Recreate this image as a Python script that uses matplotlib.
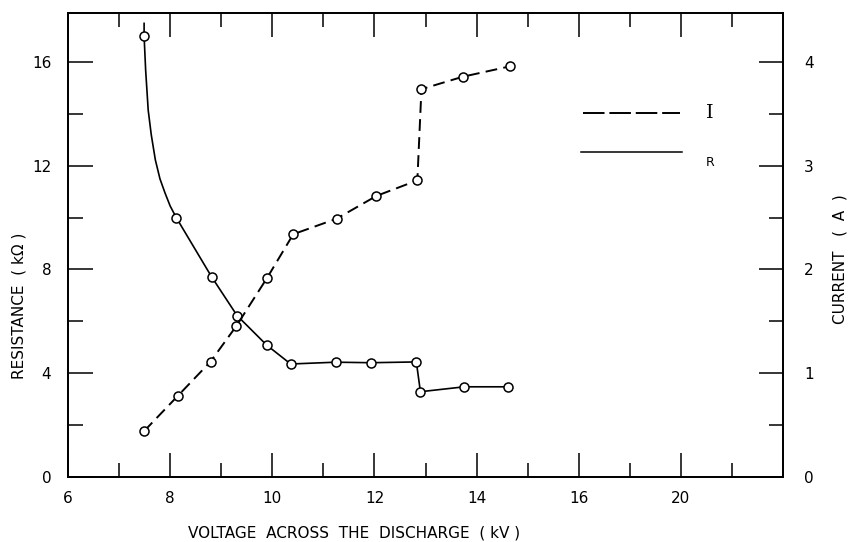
import matplotlib
matplotlib.use("Agg")
import matplotlib.pyplot as plt

# resistance (kOhm) measured points
r_volt = [7.49, 8.12, 8.81, 9.31, 9.89, 10.36, 11.24, 11.93, 12.82, 12.90, 13.76, 14.62]
r_kohm = [17.0, 10.0, 7.72, 6.22, 5.08, 4.35, 4.42, 4.40, 4.43, 3.28, 3.47, 3.47]
# points traced along the drawn R curve above 10 kOhm (no markers there)
r_trace_volt = [7.49, 7.49, 7.52, 7.57, 7.63, 7.71, 7.80, 7.90, 8.00]
r_trace_kohm = [17.5, 17.0, 15.7, 14.15, 13.2, 12.23, 11.5, 10.95, 10.45]

# current (A) measured points
i_volt = [7.49, 8.15, 8.79, 9.29, 9.90, 10.41, 11.26, 12.04, 12.84, 12.92, 13.73, 14.65]
i_amp = [0.44, 0.78, 1.11, 1.45, 1.92, 2.34, 2.49, 2.71, 2.86, 3.74, 3.86, 3.96]

x_major = [6, 8, 10, 12, 14, 16, 18]
x_labels = ['6', '8', '10', '12', '14', '16', '20']
x_minor = [7, 9, 11, 13, 15, 17, 19]
r_major = [0, 4, 8, 12, 16]
r_minor = [2, 6, 10, 14]
i_major = [0, 1, 2, 3, 4]
i_minor = [0.5, 1.5, 2.5, 3.5]

plt.rcParams['font.family'] = ['DejaVu Sans']
plt.rcParams['lines.scale_dashes'] = False

fig = plt.figure(figsize=(8.48, 5.42), dpi=100)
ax1 = fig.add_axes([0.0802, 0.1205, 0.8432, 0.8555])
ax2 = ax1.twinx()

ymax = 17.9
ax1.set_xlim(6, 20)
ax1.set_ylim(0, ymax)
ax2.set_ylim(0, ymax / 4)

# R curve: traced part then through measured points
ax1.plot(r_trace_volt + r_volt[1:], r_trace_kohm + r_kohm[1:], color='black', lw=1.2, zorder=2)
ax1.plot(r_volt, r_kohm, ls='none', marker='o', ms=6.5, mfc='white', mec='black', mew=1.1, zorder=3)

# I curve, dashed
line_i, = ax2.plot(i_volt, i_amp, color='black', lw=1.4, zorder=2)
line_i.set_dashes((8.5, 4.5))
ax2.plot(i_volt, i_amp, ls='none', marker='o', ms=6.5, mfc='white', mec='black', mew=1.1, zorder=3)

for a in (ax1, ax2):
    for s in a.spines.values():
        s.set_linewidth(1.3)

ax1.set_xticks(x_major)
ax1.set_xticklabels(x_labels)
ax1.set_xticks(x_minor, minor=True)
ax1.set_yticks(r_major)
ax1.set_yticks(r_minor, minor=True)
ax2.set_yticks(i_major)
ax2.set_yticks(i_minor, minor=True)

ax1.tick_params(axis='x', which='both', direction='in', top=True, bottom=True, width=1.1, labelsize=11, pad=10)
ax1.tick_params(axis='x', which='major', length=17)
ax1.tick_params(axis='x', which='minor', length=10)
ax1.tick_params(axis='y', which='both', direction='in', left=True, right=False, width=1.1, labelsize=11, pad=12)
ax1.tick_params(axis='y', which='major', length=18)
ax1.tick_params(axis='y', which='minor', length=11)
ax2.tick_params(axis='y', which='both', direction='in', width=1.1, labelsize=11, pad=15)
ax2.tick_params(axis='y', which='major', length=17)
ax2.tick_params(axis='y', which='minor', length=10)

# legend keys
leg_i, = ax1.plot([0.72, 0.856], [0.784, 0.784], transform=ax1.transAxes, color='black', lw=1.4)
leg_i.set_dashes((15.5, 3.5))
ax1.plot([0.718, 0.858], [0.700, 0.700], transform=ax1.transAxes, color='black', lw=1.1)
ax1.text(0.898, 0.784, 'I', transform=ax1.transAxes, ha='center', va='center', fontsize=14, family='DejaVu Serif')
ax1.text(0.898, 0.677, 'R', transform=ax1.transAxes, ha='center', va='center', fontsize=9)

fig.text(0.417, 0.0175, 'VOLTAGE  ACROSS  THE  DISCHARGE  ( kV )', ha='center', va='center', fontsize=11)
fig.text(0.0224, 0.435, 'RESISTANCE  ( k\u03a9 )', ha='center', va='center', rotation=90, fontsize=11)
fig.text(0.9906, 0.522, 'CURRENT   (  A  )', ha='center', va='center', rotation=90, fontsize=11)

fig.savefig('out.png', dpi=100)
